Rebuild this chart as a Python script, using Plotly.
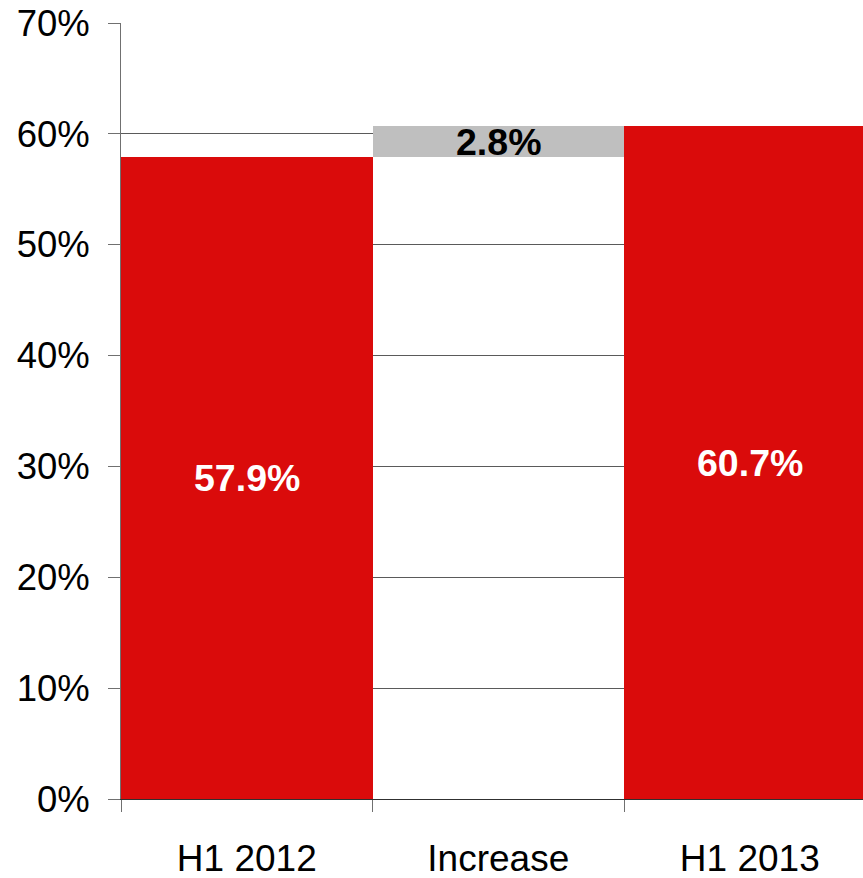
import plotly.graph_objects as go

# Half-year comparison with the change shown as a floating bar
categories = ["H1 2012", "Increase", "H1 2013"]
h1_2012 = 57.9
h1_2013 = 60.7
increase = round(h1_2013 - h1_2012, 1)
y_ticks = [0, 10, 20, 30, 40, 50, 60, 70]
y_tick_labels = [f"{v}%" for v in y_ticks]

RED = "#DA0B0B"
GREY = "#BFBFBF"
FONT = "Liberation Sans, Arial, sans-serif"

fig = go.Figure()

# Totals for the two periods
fig.add_trace(go.Bar(
    x=[categories[0], categories[2]],
    y=[h1_2012, h1_2013],
    marker=dict(color=RED, line=dict(width=0)),
    width=1.0,
    hoverinfo="skip",
))

# Floating bar for the change, starting at the earlier value
fig.add_trace(go.Bar(
    x=[categories[1]],
    y=[increase],
    base=[h1_2012],
    marker=dict(color=GREY, line=dict(width=0)),
    width=1.0,
    hoverinfo="skip",
))

# Value labels
LABEL_SIZE = 37.5
annotations = [
    dict(x=categories[0], y=h1_2012 / 2, text=f"<b>{h1_2012:.1f}%</b>",
         font=dict(color="white", size=LABEL_SIZE, family=FONT), showarrow=False),
    dict(x=categories[2], y=h1_2013 / 2, text=f"<b>{h1_2013:.1f}%</b>",
         font=dict(color="white", size=LABEL_SIZE, family=FONT), showarrow=False),
    dict(x=categories[1], y=h1_2012 + increase / 2, text=f"<b>{increase:.1f}%</b>",
         font=dict(color="black", size=LABEL_SIZE, family=FONT), showarrow=False),
]

fig.update_layout(
    width=863, height=878,
    margin=dict(l=121, r=0, t=23, b=79),
    paper_bgcolor="white", plot_bgcolor="white",
    showlegend=False,
    barmode="overlay",
    bargap=0,
    font=dict(family=FONT, color="black"),
    annotations=annotations,
    xaxis=dict(
        type="category",
        categoryorder="array", categoryarray=categories,
        range=[-0.5, 2.45],
        showgrid=False,
        showline=True, linecolor="#303030", linewidth=1,
        ticks="outside", ticklen=12, tickcolor="#707070", tickwidth=1,
        tickson="boundaries",
        tickfont=dict(size=37, family=FONT, color="black"),
        ticklabelstandoff=27,
        zeroline=False,
    ),
    yaxis=dict(
        range=[0, 70],
        tickvals=y_ticks, ticktext=y_tick_labels,
        showgrid=True, gridcolor="#5A5A5A", gridwidth=1,
        showline=True, linecolor="#707070", linewidth=1,
        ticks="outside", ticklen=12, tickcolor="#707070", tickwidth=1,
        tickfont=dict(size=36.5, family=FONT, color="black"),
        ticklabelstandoff=11,
        zeroline=False,
    ),
)

fig.write_html("out.html")
